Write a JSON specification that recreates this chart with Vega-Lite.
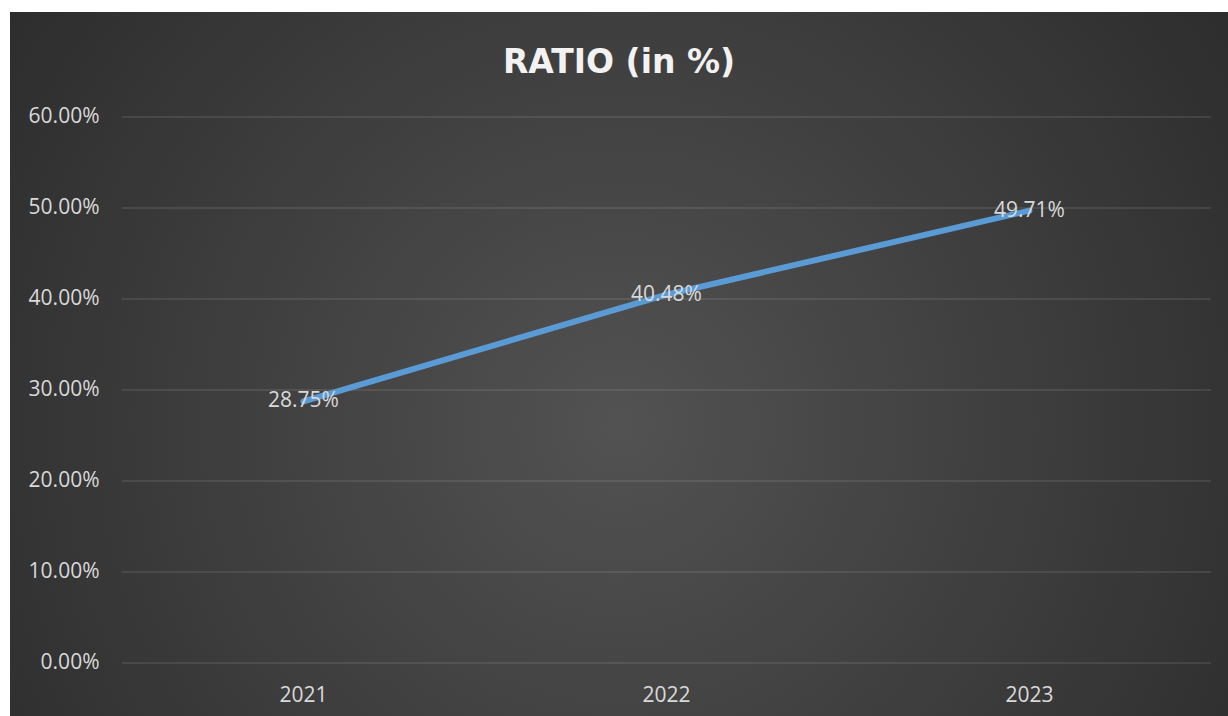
{
  "$schema": "https://vega.github.io/schema/vega-lite/v6.json",
  "width": 1218,
  "height": 704,
  "autosize": {"type": "none"},
  "padding": {"left": 10, "top": 12, "right": 0, "bottom": 0},
  "background": "#ffffff",
  "config": {
    "view": {
      "stroke": null,
      "fill": {
        "gradient": "radial",
        "x1": 0.5, "y1": 0.55, "r1": 0,
        "x2": 0.5, "y2": 0.55, "r2": 0.72,
        "stops": [
          {"offset": 0, "color": "#525252"},
          {"offset": 1, "color": "#262626"}
        ]
      }
    },
    "font": "Open Sans",
    "axis": {
      "grid": false,
      "domain": false,
      "ticks": false,
      "tickSize": 0,
      "labelPadding": 0,
      "title": null,
      "labelFont": "Open Sans",
      "labelFontSize": 21,
      "labelColor": "#d9d9d9"
    }
  },
  "title": {
    "text": "RATIO (in %)",
    "font": "DejaVu Sans",
    "fontSize": 33,
    "fontWeight": "bold",
    "color": "#f2f2f2",
    "anchor": "middle",
    "frame": "group",
    "baseline": "alphabetic",
    "offset": -94
  },
  "datasets": {
    "ratio": [
      {"year": "2021", "ratio": 0.2875},
      {"year": "2022", "ratio": 0.4048},
      {"year": "2023", "ratio": 0.4971}
    ],
    "grid": [
      {"tick": 0}, {"tick": 0.1}, {"tick": 0.2}, {"tick": 0.3},
      {"tick": 0.4}, {"tick": 0.5}, {"tick": 0.6}
    ]
  },
  "layer": [
    {
      "data": {"name": "grid"},
      "mark": {"type": "rule", "color": "#ffffff", "opacity": 0.12, "strokeWidth": 1.5},
      "encoding": {
        "y": {
          "field": "tick", "type": "quantitative",
          "scale": {"domain": [-0.05825, 0.71538], "nice": false, "zero": false},
          "axis": {"orient": "left", "offset": -89, "values": [0, 0.1, 0.2, 0.3, 0.4, 0.5, 0.6], "format": ".2%", "labelBaseline": "middle"}
        },
        "x": {
          "datum": "2021", "type": "nominal", "bandPosition": 0,
          "scale": {"type": "band", "domain": ["2021", "2022", "2023"], "paddingInner": 0, "paddingOuter": 0.1777, "align": 0.868},
          "axis": {"orient": "bottom", "offset": -21, "labelBaseline": "middle", "labelAngle": 0}
        },
        "x2": {"datum": "2023", "bandPosition": 1}
      }
    },
    {
      "data": {"name": "ratio"},
      "mark": {"type": "line", "color": "#5B9BD5", "strokeWidth": 6, "strokeCap": "round"},
      "encoding": {
        "x": {"field": "year", "type": "nominal"},
        "y": {"field": "ratio", "type": "quantitative"}
      }
    },
    {
      "data": {"name": "ratio"},
      "mark": {"type": "text", "color": "#d9d9d9", "fontSize": 21, "font": "Open Sans", "align": "center", "baseline": "middle"},
      "encoding": {
        "x": {"field": "year", "type": "nominal"},
        "y": {"field": "ratio", "type": "quantitative"},
        "text": {"field": "ratio", "type": "quantitative", "format": ".2%"}
      }
    }
  ]
}
